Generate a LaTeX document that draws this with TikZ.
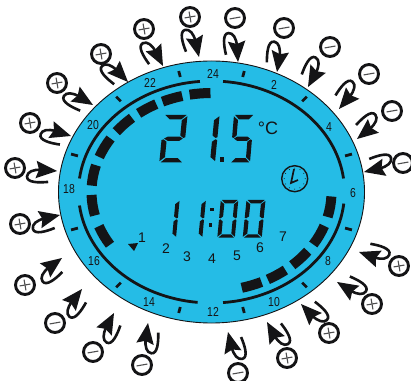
\documentclass[tikz,border=0pt]{standalone}
\usepackage{fontspec}
\setmainfont{Liberation Sans}
\newfontfamily\hourfont[FakeStretch=0.8]{Liberation Sans}
\definecolor{lcdblue}{RGB}{37,188,230}
\definecolor{inkdark}{RGB}{20,20,22}

% seven segment pieces, box is 1 wide and 2 high
\newcommand{\lcdsega}{\fill (.06,2) -- (.96,2) -- (.76,1.82) -- (.26,1.82) -- cycle;}
\newcommand{\lcdsegb}{\fill (1,1.95) -- (1,1.06) -- (.92,1.03) -- (.78,1.13) -- (.78,1.78) -- cycle;}
\newcommand{\lcdsegc}{\fill (1,.05) -- (1,.94) -- (.92,.97) -- (.78,.87) -- (.78,.22) -- cycle;}
\newcommand{\lcdsegd}{\fill (.06,0) -- (.96,0) -- (.76,.18) -- (.26,.18) -- cycle;}
\newcommand{\lcdsege}{\fill (0,.05) -- (0,.94) -- (.08,.97) -- (.22,.87) -- (.22,.22) -- cycle;}
\newcommand{\lcdsegf}{\fill (0,1.95) -- (0,1.06) -- (.08,1.03) -- (.22,1.13) -- (.22,1.78) -- cycle;}
\newcommand{\lcdsegg}{\fill (.1,1) -- (.26,1.09) -- (.76,1.09) -- (.9,1) -- (.76,.91) -- (.26,.91) -- cycle;}
% x, y, width, height, segments
\newcommand{\lcddigit}[5]{%
  \begin{scope}[shift={(#1,#2)},xscale=#3,yscale=#4/2,cm={1,0,.1,1,(0,0)},inkdark]
    \foreach \s in {#5} {\csname lcdseg\s\endcsname}
  \end{scope}}
% circle x, circle y, tip x, tip y, sign (y as measured from the top)
\newcommand{\gesture}[5]{%
  \pgfmathsetmacro\ang{atan2(#4-#2,#1-#3)}
  \begin{scope}[shift={(#3,380-#4)},rotate=\ang]
    \draw[hookline] (8,11.5) .. controls (17,13) and (29.5,14) .. (29.5,7.5) .. controls (29.5,3) and (24,0) .. (16,0);
    \fill[inkdark] (0,0) -- (21,8.8) -- (18,0) -- (21,-8.8) -- cycle;
  \end{scope}
  \draw[signring] (#1,380-#2) circle (9.5);
  \begin{scope}[shift={(#1,380-#2)},rotate=10]
    \draw[signline] (-5.5,0) -- (5.5,0);
    \ifx#5+\draw[signline] (0,-5.5) -- (0,5.5);\fi
  \end{scope}}

\tikzset{
    hookline/.style={inkdark, line width=2.6pt},
    signring/.style={inkdark, line width=2.9pt, fill=white},
    signline/.style={inkdark!75, line width=1.1pt},
    ringline/.style={inkdark, line width=2.8pt},
    hourbar/.style={inkdark, line width=10pt},
    ticksign/.style={inkdark, line width=2.8pt},
    hourlabel/.style={inner sep=0pt, text=inkdark, font=\fontsize{13}{13}\hourfont},
    daylabel/.style={inner sep=0pt, text=inkdark, font=\fontsize{14}{14}\selectfont}
}

\begin{document}
\begin{tikzpicture}[x=1pt,y=1pt]
\useasboundingbox (0,0) rectangle (411,380);
\coordinate (dial) at (211.5,188);

\draw[fill=lcdblue, draw=inkdark, line width=0.9pt] (dial) ellipse [x radius=153, y radius=131];

% outer ring, four quarters
\foreach \a/\b in {95/173, 85/7, 187/264, -85/-6}
    \draw[ringline] (dial) ++(\a:133 and 111) arc[start angle=\a, end angle=\b, x radius=133, y radius=111];

% thick hour bars
\foreach \t/\w in {170.3/6, 153.3/6, 137/5.5, 122.4/5, 109.1/5, 95.5/5, 187.7/6, 206.2/6, -8.6/6, -26/6, -42.2/5.5, -57/5, -70.4/5}
    \draw[hourbar] (dial) ++(\t+\w:120 and 99) arc[start angle=\t+\w, end angle=\t-\w, x radius=120, y radius=99];

% ticks between the labels
\foreach \sx in {-1,1} \foreach \sy in {-1,1} \foreach \x/\y in {137/37, 93/93, 32/118}
    \draw[ticksign] ([shift={(\sx*\x*.975,\sy*\y*.975)}]dial) -- ([shift={(\sx*\x*1.025,\sy*\y*1.025)}]dial);

% hour labels
\foreach \h/\x/\y in {24/213/306, 22/150/297, 20/93/255, 18/69/191, 16/94/119, 14/149/78, 12/213/68, 10/274/78, 8/328/119, 6/353/187, 4/329/253, 2/274/295}
    \node[hourlabel] (hour\h) at (\x,\y) {\h};

% day labels
\foreach \d/\x/\y in {1/142/142, 2/166/131, 3/187/123, 4/212/121, 5/237/124, 6/260/132, 7/283/143}
    \node[daylabel] (day\d) at (\x,\y) {\d};
\fill[inkdark] (128,136) -- (138,137) -- (134,129) -- cycle;

% temperature
\lcddigit{159.3}{217.7}{23.5}{47.3}{a,b,g,e,d}
\lcddigit{192}{217.7}{23}{47.3}{b,c}
\fill[inkdark] (219.5,218) rectangle (224,223);
\lcddigit{230}{217.7}{20}{47.3}{a,f,g,c,d}
\node[inner sep=0pt, text=inkdark, font=\fontsize{18}{18}\selectfont] (unit) at (268,252) {°C};

% time
\lcddigit{158}{142.3}{18}{37.7}{b,c}
\lcddigit{184.3}{142.3}{18}{37.7}{b,c}
\fill[inkdark] (210,168.5) rectangle (213.5,172);
\fill[inkdark] (208.5,153.5) rectangle (212,157);
\lcddigit{217.3}{142.3}{17.5}{37.7}{a,b,c,d,e,f}
\lcddigit{242.7}{142.3}{19}{37.7}{a,b,c,d,e,f}

% clock
\draw[inkdark, line width=1.4pt] (294.7,201.3) circle (13);
\foreach \t in {0,30,...,330}
    \fill[inkdark] (294.7,201.3) ++(\t:10.5) circle (0.5);
\draw[inkdark, line width=1.7pt] (294,211) -- (291,197) -- (298,200);

% finger gestures round the dial
\gesture{15}{168}{57}{171}{+}
\gesture{30}{123}{71}{136}{+}
\gesture{57}{83}{93}{105}{+}
\gesture{101}{54}{128}{82}{+}
\gesture{144}{29}{163}{66}{+}
\gesture{190}{17}{199}{57}{+}
\gesture{235}{18}{238}{62}{-}
\gesture{284}{28}{277}{72}{-}
\gesture{330}{47}{308}{87}{-}
\gesture{369}{74}{339}{109}{-}
\gesture{392}{111}{357}{139}{-}
\gesture{403}{163}{364}{172}{-}
\gesture{399}{266}{359}{252}{+}
\gesture{372}{304}{337}{282}{+}
\gesture{329}{333}{301}{304}{+}
\gesture{287}{358}{267}{322}{+}
\gesture{238}{373}{228}{332}{-}
\gesture{142}{365}{148}{323}{-}
\gesture{93}{352}{114}{313}{-}
\gesture{55}{323}{82}{289}{-}
\gesture{25}{285}{62}{258}{+}
\gesture{20}{224}{60}{215}{+}

\end{tikzpicture}
\end{document}
